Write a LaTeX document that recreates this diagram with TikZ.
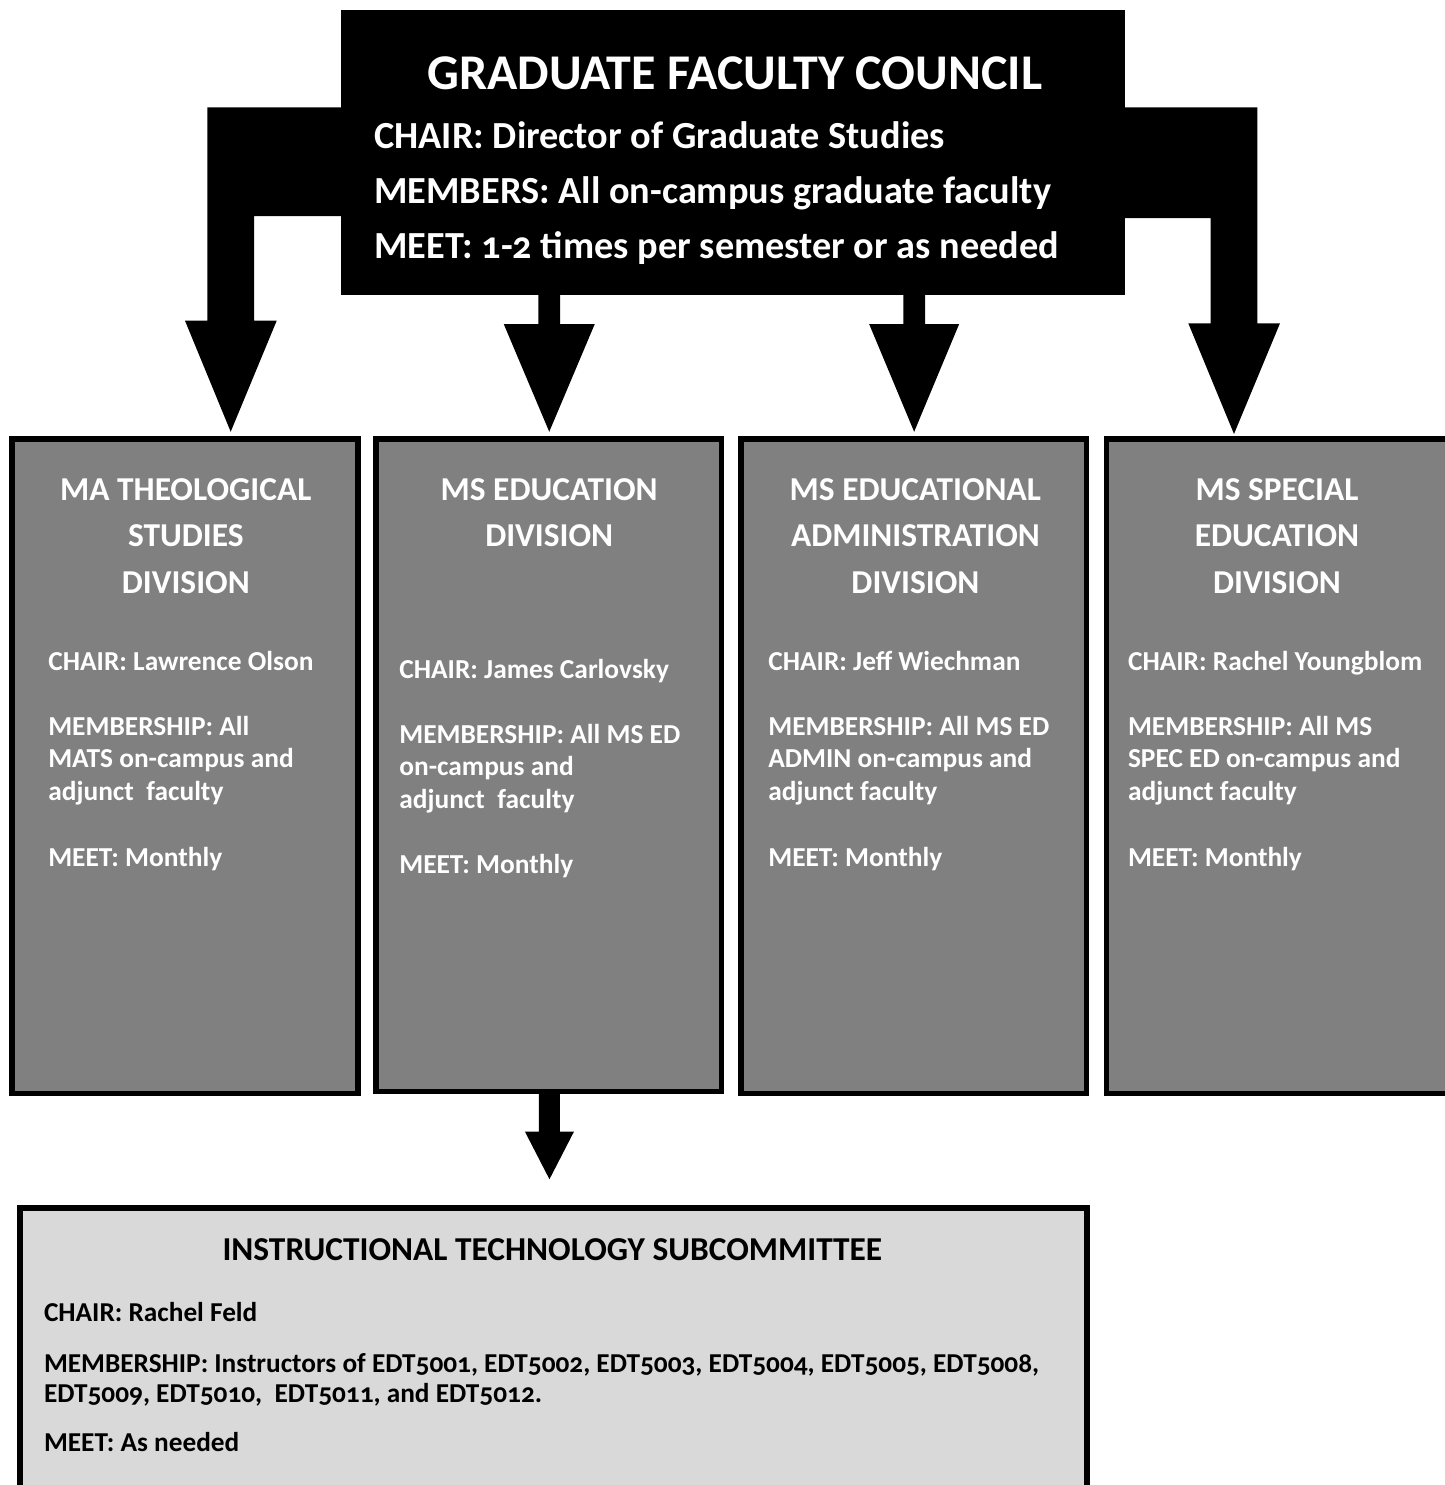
\documentclass[tikz,border=0pt]{standalone}
\usepackage{fontspec}
\setmainfont{Carlito}[Numbers=OldStyle]
\usetikzlibrary{calc}
\definecolor{divgray}{RGB}{128,128,128}
\definecolor{subgray}{RGB}{217,217,217}
\begin{document}
\begin{tikzpicture}[x=0.5pt,y=-0.5pt,
  gfcbox/.style={rectangle, fill=black, inner sep=0pt, outer sep=0pt},
  divbox/.style={rectangle, draw=black, fill=divgray, line width=2.75pt, inner sep=0pt, outer sep=0pt},
  subbox/.style={rectangle, draw=black, fill=subgray, line width=2.75pt, inner sep=0pt, outer sep=0pt},
  blockarrow/.style={fill=black},
  txt/.style={inner sep=0pt, outer sep=0pt},
  gfctitle/.style={txt, anchor=base, text=white, font=\fontsize{25pt}{29pt}\selectfont\bfseries},
  gfcline/.style={txt, anchor=base west, text=white, font=\fontsize{19.15pt}{23pt}\selectfont\bfseries},
  divtitle/.style={txt, anchor=base, text=white, font=\fontsize{16.7pt}{20pt}\selectfont\bfseries},
  divline/.style={txt, anchor=base west, text=white, font=\fontsize{13.7pt}{16pt}\selectfont\bfseries},
  subtitle/.style={txt, anchor=base, text=black, font=\fontsize{16.7pt}{20pt}\selectfont\bfseries},
  subline/.style={txt, anchor=base west, text=black, font=\fontsize{13.65pt}{16pt}\selectfont\bfseries}
]
\useasboundingbox (0,0) rectangle (1445,1485);
\clip (0,0) rectangle (1445,1485);

% boxes
\node[gfcbox, minimum width=391.85pt, minimum height=142.5pt] (gfc) at (732.85,152.5) {};
\node[divbox, minimum width=172.95pt, minimum height=327.25pt] (d1) at (185,766) {};
\node[divbox, minimum width=172.6pt, minimum height=326.25pt] (d2) at (548.65,765) {};
\node[divbox, minimum width=172.9pt, minimum height=327.25pt] (d3) at (913.65,766) {};
\node[divbox, minimum width=172.9pt, minimum height=327.25pt] (d4) at (1279.5,766) {};
\node[subbox, minimum width=533.5pt, minimum height=154.75pt] (sub) at (553.55,1362.5) {};

% arrow tips
\coordinate (t1) at ([shift={(22.85pt,3.5pt)}]d1.north);
\coordinate (t2) at ([shift={(0.3pt,3.5pt)}]d2.north);
\coordinate (t3) at ([shift={(0.25pt,3.5pt)}]d3.north);
\coordinate (t4) at ([shift={(-22.75pt,2.4pt)}]d4.north);
\coordinate (t5) at ([shift={(0.4pt,-44pt)}]d2.south);

% arrows from the council
\fill[blockarrow] (345,107.3) -- (207.3,107.3) -- (207.3,320.7) -- (185,320.7) -- (t1)
  -- (276.7,320.7) -- (254,320.7) -- (254,216) -- (345,216) -- cycle;
\fill[blockarrow] ($(t2)+(-10.85,-140)$) -- ($(t2)+(-10.85,-107.7)$) -- ($(t2)+(-45.5,-107.7)$)
  -- (t2) -- ($(t2)+(45.5,-107.7)$) -- ($(t2)+(10.85,-107.7)$) -- ($(t2)+(10.85,-140)$) -- cycle;
\fill[blockarrow] ($(t3)+(-10.85,-140)$) -- ($(t3)+(-10.85,-107.7)$) -- ($(t3)+(-45,-107.7)$)
  -- (t3) -- ($(t3)+(45,-107.7)$) -- ($(t3)+(10.85,-107.7)$) -- ($(t3)+(10.85,-140)$) -- cycle;
\fill[blockarrow] (1121,107.3) -- (1257.3,107.3) -- (1257.3,323.3) -- (1280,323.3) -- (t4)
  -- (1188.3,323.3) -- (1210.7,323.3) -- (1210.7,218) -- (1121,218) -- cycle;
% arrow to subcommittee
\fill[blockarrow] ($(t5)+(-10.5,-88)$) -- ($(t5)+(-10.5,-47.6)$) -- ($(t5)+(-24.5,-47.6)$)
  -- (t5) -- ($(t5)+(24.5,-47.6)$) -- ($(t5)+(10.5,-47.6)$) -- ($(t5)+(10.5,-88)$) -- cycle;

% council text
\node[gfctitle] (gfct) at (734.7,89.3) {GRADUATE FACULTY COUNCIL};
\node[gfcline] (gfc1) at (374.3,148.3) {CHAIR: Director of Graduate Studies};
\node[gfcline] (gfc2) at (374.3,203.3) {MEMBERS: All on-campus graduate faculty};
\node[gfcline] (gfc3) at (374.3,258.3) {MEET: 1-2 times per semester or as needed};

% division 1
\node[divtitle] (d1t1) at (185.8,500) {MA THEOLOGICAL};
\node[divtitle] (d1t2) at (185.8,546) {STUDIES};
\node[divtitle] (d1t3) at (185.8,593) {DIVISION};
\node[divline] (d1l1) at (48.3,670) {CHAIR: Lawrence Olson};
\node[divline] (d1l2) at (48.3,735) {MEMBERSHIP: All};
\node[divline] (d1l3) at (48.3,767.3) {MATS on-campus and};
\node[divline] (d1l4) at (48.3,800) {adjunct\ \ faculty};
\node[divline] (d1l5) at (48.3,866) {MEET: Monthly};

% division 2
\node[divtitle] (d2t1) at (549.2,500.5) {MS EDUCATION};
\node[divtitle] (d2t2) at (549.2,546) {DIVISION};
\node[divline] (d2l1) at (399.3,678.3) {CHAIR: James Carlovsky};
\node[divline] (d2l2) at (399.3,743.3) {MEMBERSHIP: All MS ED};
\node[divline] (d2l3) at (399.3,775) {on-campus and};
\node[divline] (d2l4) at (399.3,808.3) {adjunct\ \ faculty};
\node[divline] (d2l5) at (399.3,873.3) {MEET: Monthly};

% division 3
\node[divtitle] (d3t1) at (915.4,500) {MS EDUCATIONAL};
\node[divtitle] (d3t2) at (915.4,546) {ADMINISTRATION};
\node[divtitle] (d3t3) at (915.4,593) {DIVISION};
\node[divline] (d3l1) at (768.3,670) {CHAIR: Jeff Wiechman};
\node[divline] (d3l2) at (768.3,735) {MEMBERSHIP: All MS ED};
\node[divline] (d3l3) at (768.3,767.3) {ADMIN on-campus and};
\node[divline] (d3l4) at (768.3,800) {adjunct faculty};
\node[divline] (d3l5) at (768.3,866) {MEET: Monthly};

% division 4
\node[divtitle] (d4t1) at (1277,500) {MS SPECIAL};
\node[divtitle] (d4t2) at (1277,546) {EDUCATION};
\node[divtitle] (d4t3) at (1277,593) {DIVISION};
\node[divline] (d4l1) at (1128,670) {CHAIR: Rachel Youngblom};
\node[divline] (d4l2) at (1128,735) {MEMBERSHIP: All MS};
\node[divline] (d4l3) at (1128,767.3) {SPEC ED on-campus and};
\node[divline] (d4l4) at (1128,800) {adjunct faculty};
\node[divline] (d4l5) at (1128,866) {MEET: Monthly};

% subcommittee
\node[subtitle] (subt) at (552.4,1260.7) {INSTRUCTIONAL TECHNOLOGY SUBCOMMITTEE};
\node[subline] (subl1) at (44,1321.7) {CHAIR: Rachel Feld};
\node[subline] (subl2) at (44,1372) {MEMBERSHIP: Instructors of EDT5001, EDT5002, EDT5003, EDT5004, EDT5005, EDT5008,};
\node[subline] (subl3) at (44,1402.3) {EDT5009, EDT5010,\ \ EDT5011, and EDT5012.};
\node[subline] (subl4) at (44,1451.7) {MEET: As needed};
\end{tikzpicture}
\end{document}
